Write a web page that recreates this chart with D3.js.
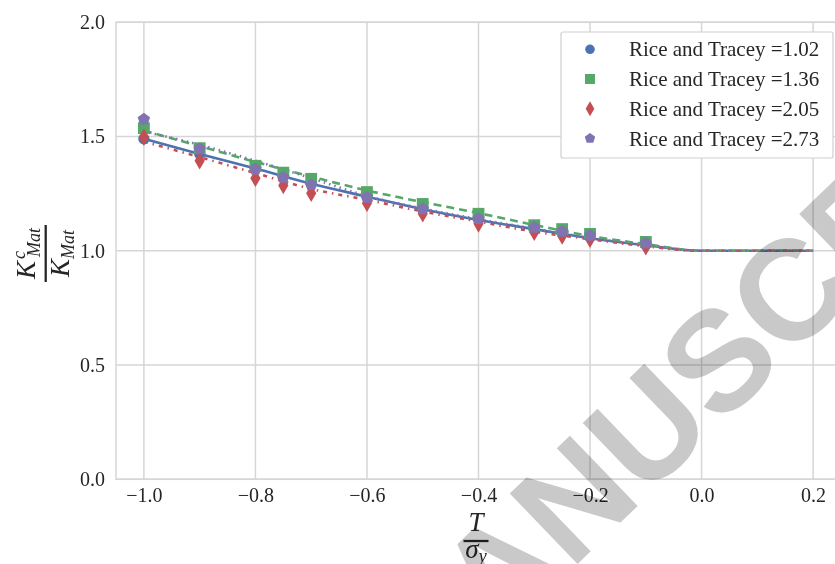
<!DOCTYPE html>
<html>
<head>
<meta charset="utf-8">
<script src="https://cdn.jsdelivr.net/npm/d3@7"></script>
<style>
  body { margin: 0; background: #fff; }
  text { font-family: "Liberation Serif", "Times New Roman", serif; fill: #262626; }
</style>
</head>
<body>
<svg id="chart"></svg>
<script>
// sample positions (T / sigma_y) of the markers
var markX = [-1.0, -0.9, -0.8, -0.75, -0.7, -0.6, -0.5, -0.4, -0.3, -0.25, -0.2, -0.1];
// marker values, one array per series
var blueVals   = [1.490, 1.425, 1.360, 1.326, 1.292, 1.238, 1.183, 1.137, 1.097, 1.080, 1.060, 1.028];
var greenVals  = [1.537, 1.449, 1.372, 1.342, 1.315, 1.257, 1.205, 1.162, 1.112, 1.095, 1.074, 1.039];
var redVals    = [1.497, 1.394, 1.318, 1.286, 1.252, 1.208, 1.162, 1.118, 1.081, 1.065, 1.051, 1.018];
var purpleVals = [1.576, 1.446, 1.357, 1.321, 1.289, 1.233, 1.183, 1.140, 1.102, 1.084, 1.067, 1.033];

// fitted curves, read at these positions
var fitX = [-1.0, -0.9, -0.8, -0.7, -0.6, -0.5, -0.4, -0.3, -0.2, -0.1, 0.0, 0.1, 0.2];
var blueFit   = [1.490, 1.424, 1.360, 1.293, 1.237, 1.182, 1.135, 1.095, 1.055, 1.024, 1.0, 1.0, 1.0];
var greenFit  = [1.526, 1.458, 1.389, 1.325, 1.264, 1.213, 1.165, 1.113, 1.065, 1.029, 1.0, 1.0, 1.0];
var redFit    = [1.478, 1.410, 1.340, 1.271, 1.223, 1.172, 1.128, 1.084, 1.051, 1.020, 1.0, 1.0, 1.0];
var purpleFit = [1.522, 1.464, 1.394, 1.318, 1.240, 1.185, 1.138, 1.097, 1.057, 1.025, 1.0, 1.0, 1.0];

var seriesNames = ["Rice and Tracey =1.02", "Rice and Tracey =1.36", "Rice and Tracey =2.05", "Rice and Tracey =2.73"];
var xTicks = [-1.0, -0.8, -0.6, -0.4, -0.2, 0.0, 0.2];
var yTicks = [0.0, 0.5, 1.0, 1.5, 2.0];

// pentagon marker for d3.symbol
var symbolPentagon = {
  draw: function(context, size) {
    var r = Math.sqrt(size / 2.378);
    for (var i = 0; i < 5; i++) {
      var a = -Math.PI / 2 + i * 2 * Math.PI / 5;
      if (i === 0) context.moveTo(r * Math.cos(a), r * Math.sin(a));
      else context.lineTo(r * Math.cos(a), r * Math.sin(a));
    }
    context.closePath();
  }
};

var series = [
  {name: seriesNames[0], vals: blueVals,   fit: blueFit,   color: "#4C72B0", dash: null,        symbol: d3.symbolCircle,  size: 100},
  {name: seriesNames[1], vals: greenVals,  fit: greenFit,  color: "#55A868", dash: "8,5",       symbol: d3.symbolSquare,  size: 140},
  {name: seriesNames[2], vals: redVals,    fit: redFit,    color: "#C44E52", dash: "4,5,1.5,5", symbol: d3.symbolDiamond, size: 90},
  {name: seriesNames[3], vals: purpleVals, fit: purpleFit, color: "#8172B2", dash: "1.5,4",     symbol: symbolPentagon,   size: 100}
];

var width = 835, height = 564;
var plot = {left: 116, top: 22.3, right: 841, bottom: 479.3};

var x = d3.scaleLinear().domain([-1.05, 0.25]).range([plot.left, plot.right]);
var y = d3.scaleLinear().domain([0, 2]).range([plot.bottom, plot.top]);

var svg = d3.select("#chart")
    .attr("width", width)
    .attr("height", height);

svg.append("defs").append("clipPath")
    .attr("id", "clip")
  .append("rect")
    .attr("x", plot.left)
    .attr("y", plot.top)
    .attr("width", plot.right - plot.left)
    .attr("height", plot.bottom - plot.top);

// grid lines
svg.append("g")
    .selectAll("line")
    .data(xTicks)
  .enter().append("line")
    .attr("x1", function(d) { return x(d); })
    .attr("x2", function(d) { return x(d); })
    .attr("y1", plot.top)
    .attr("y2", plot.bottom)
    .style("stroke", "#d6d6d6")
    .style("stroke-width", 1.5);

svg.append("g")
    .selectAll("line")
    .data(yTicks)
  .enter().append("line")
    .attr("x1", plot.left)
    .attr("x2", plot.right)
    .attr("y1", function(d) { return y(d); })
    .attr("y2", function(d) { return y(d); })
    .style("stroke", "#d6d6d6")
    .style("stroke-width", 1.5);

// frame
svg.append("rect")
    .attr("x", plot.left)
    .attr("y", plot.top)
    .attr("width", plot.right - plot.left)
    .attr("height", plot.bottom - plot.top)
    .style("fill", "none")
    .style("stroke", "#d6d6d6")
    .style("stroke-width", 1.5);

// tick labels via axes, with the domain and tick marks removed
var fmt = function(d) { return d3.format(".1f")(d).replace("-", "\u2212"); };

var xAxis = svg.append("g")
    .attr("transform", "translate(0," + plot.bottom + ")")
    .call(d3.axisBottom(x).tickValues(xTicks).tickFormat(fmt).tickSize(0).tickPadding(9));
var yAxis = svg.append("g")
    .attr("transform", "translate(" + plot.left + ",0)")
    .call(d3.axisLeft(y).tickValues(yTicks).tickFormat(d3.format(".1f")).tickSize(0).tickPadding(11));
[xAxis, yAxis].forEach(function(a) {
  a.select(".domain").remove();
  a.selectAll("text")
      .attr("font-family", null)
      .style("font-size", "20px")
      .style("fill", "#262626");
  a.attr("font-family", null).attr("font-size", null);
});

// fitted curves
var line = d3.line()
    .x(function(d, i) { return x(fitX[i]); })
    .y(function(d) { return y(d); })
    .curve(d3.curveMonotoneX);

var curves = svg.append("g").attr("clip-path", "url(#clip)");
series.forEach(function(s) {
  curves.append("path")
      .datum(s.fit)
      .attr("d", line)
      .style("fill", "none")
      .style("stroke", s.color)
      .style("stroke-width", 2.6)
      .style("stroke-dasharray", s.dash);
});

// markers
series.forEach(function(s) {
  svg.append("g")
      .selectAll("path")
      .data(s.vals)
    .enter().append("path")
      .attr("transform", function(d, i) { return "translate(" + x(markX[i]) + "," + y(d) + ")"; })
      .attr("d", d3.symbol().type(s.symbol).size(s.size))
      .style("fill", s.color);
});

// legend
var legend = svg.append("g");
legend.append("rect")
    .attr("x", 561)
    .attr("y", 32)
    .attr("width", 272)
    .attr("height", 126)
    .attr("rx", 2)
    .style("fill", "#fff")
    .style("stroke", "#d0d0d0")
    .style("stroke-width", 1.2);

var entry = legend.selectAll(".entry")
    .data(series)
  .enter().append("g")
    .attr("class", "entry")
    .attr("transform", function(d, i) { return "translate(590," + (49.3 + i * 29.7) + ")"; });

entry.append("path")
    .attr("d", function(d) { return d3.symbol().type(d.symbol).size(d.size * 0.72)(); })
    .style("fill", function(d) { return d.color; });

entry.append("text")
    .attr("x", 39)
    .attr("dy", "0.34em")
    .style("font-size", "21px")
    .text(function(d) { return d.name; });

// y label: K^c_Mat / K_Mat
var yl = svg.append("g")
    .attr("transform", "translate(45.7,253.5) rotate(-90)");
yl.append("line")
    .attr("x1", -28.5).attr("x2", 28.5)
    .style("stroke", "#262626")
    .style("stroke-width", 2.3);
var num = yl.append("text")
    .attr("y", -11)
    .attr("text-anchor", "middle")
    .style("font-style", "italic")
    .style("font-size", "27px");
num.append("tspan").text("K");
num.append("tspan").attr("dx", 2).attr("dy", -10).style("font-size", "18px").text("c");
num.append("tspan").attr("dx", -6).attr("dy", 15).style("font-size", "18px").text("Mat");
var den = yl.append("text")
    .attr("y", 23)
    .attr("text-anchor", "middle")
    .style("font-style", "italic")
    .style("font-size", "27px");
den.append("tspan").text("K");
den.append("tspan").attr("dy", 5).style("font-size", "18px").text("Mat");

// x label: T / sigma_y
var xl = svg.append("g")
    .attr("transform", "translate(476,0)");
xl.append("text")
    .attr("y", 531)
    .attr("text-anchor", "middle")
    .style("font-style", "italic")
    .style("font-size", "27px")
    .text("T");
xl.append("line")
    .attr("x1", -12.5).attr("x2", 12.5)
    .attr("y1", 541).attr("y2", 541)
    .style("stroke", "#262626")
    .style("stroke-width", 2.3);
var sig = xl.append("text")
    .attr("y", 558)
    .attr("text-anchor", "middle")
    .style("font-style", "italic")
    .style("font-size", "27px");
sig.append("tspan").text("\u03C3");
sig.append("tspan").attr("dy", 4).style("font-size", "18px").text("y");

// watermark
var wm = svg.append("g")
    .attr("transform", "translate(412,724) rotate(-44)")
    .style("mix-blend-mode", "multiply");
wm.append("text")
    .attr("text-anchor", "end")
    .style("font-family", "'Liberation Sans', Arial, sans-serif")
    .style("font-weight", "bold")
    .style("font-size", "142px")
    .style("fill", "#c9c9ca")
    .text("ACCEPTED ");
wm.append("text")
    .style("font-family", "'Liberation Sans', Arial, sans-serif")
    .style("font-weight", "bold")
    .style("font-size", "142px")
    .style("fill", "#c9c9ca")
    .text("MANUSCRIPT");
</script>
</body>
</html>
